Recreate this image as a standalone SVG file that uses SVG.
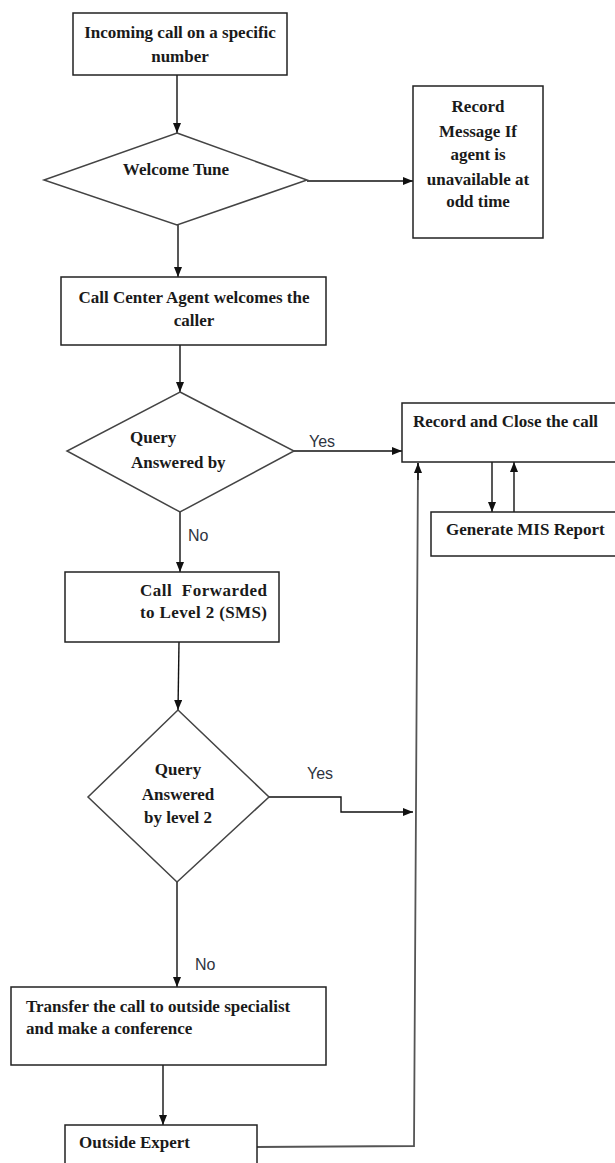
<svg xmlns="http://www.w3.org/2000/svg" width="615" height="1163" viewBox="0 0 615 1163">
<style>
.box{fill:#fff;stroke:#222;stroke-width:1.5}
.dia{fill:#fff;stroke:#444;stroke-width:1.5}
.t{font-family:"Liberation Serif","Times New Roman",serif;font-weight:bold;font-size:17px;fill:#1a1a1a}
.c{text-anchor:middle}
.lbl{font-family:"Liberation Sans",Arial,sans-serif;font-size:16px;fill:#2e3440}
.con{fill:none;stroke:#111;stroke-width:1.4}
.gray{stroke:#555;stroke-width:1.8}
</style>
<defs>
<marker id="ah" markerWidth="10" markerHeight="8" refX="10" refY="4" orient="auto" markerUnits="userSpaceOnUse">
<path d="M0,0 L10,4 L0,8 Z" fill="#111"/>
</marker>
</defs>
<rect width="615" height="1163" fill="#fff"/>
<g id="connectors">
<path class="con" d="M177,75 L177,133" marker-end="url(#ah)"/>
<path class="con" d="M178,225 L178,277" marker-end="url(#ah)"/>
<path class="con" d="M307,181 L413,181" marker-end="url(#ah)"/>
<path class="con" d="M180,345 L180,392" marker-end="url(#ah)"/>
<path class="con" d="M294,451 L402,451" marker-end="url(#ah)"/>
<path class="con" d="M180,512 L180,572" marker-end="url(#ah)"/>
<path class="con" d="M179,642 L178,710" marker-end="url(#ah)"/>
<path class="con" d="M269,797 L341,797 L341,812 L413,812" marker-end="url(#ah)"/>
<path class="con" d="M177,882 L177,987" marker-end="url(#ah)"/>
<path class="con" d="M163,1065 L163,1125" marker-end="url(#ah)"/>
<path class="con gray" d="M257,1147 L414,1146 L418,463"/>
<path class="con" d="M418,480 L418,463" marker-end="url(#ah)"/>
<path class="con" d="M492,462 L492,512" marker-end="url(#ah)"/>
<path class="con" d="M514,512 L514,462" marker-end="url(#ah)"/>
<text class="lbl" x="309" y="447">Yes</text>
<text class="lbl" x="188" y="541">No</text>
<text class="lbl" x="307" y="779">Yes</text>
<text class="lbl" x="195" y="970">No</text>
</g>
<g id="incoming">
<rect class="box" x="73" y="13" width="214" height="62"/>
<text class="t c" x="180" y="38">Incoming call on a specific</text>
<text class="t c" x="180" y="62">number</text>
</g>
<g id="welcome">
<polygon class="dia" points="177,133 307,180 177,225 44,180"/>
<text class="t c" x="176" y="175">Welcome Tune</text>
</g>
<g id="record-message">
<rect class="box" x="413" y="86" width="130" height="152"/>
<text class="t c" x="478" y="112">Record</text>
<text class="t c" x="478" y="137">Message If</text>
<text class="t c" x="478" y="160">agent is</text>
<text class="t c" x="478" y="185">unavailable at</text>
<text class="t c" x="478" y="207">odd time</text>
</g>
<g id="agent">
<rect class="box" x="61" y="277" width="265" height="68"/>
<text class="t c" x="194" y="303">Call Center Agent welcomes the</text>
<text class="t c" x="194" y="326">caller</text>
</g>
<g id="query1">
<polygon class="dia" points="180,392 294,451 180,512 67,451"/>
<text class="t" x="130" y="443">Query</text>
<text class="t" x="131" y="468">Answered by</text>
</g>
<g id="record-close">
<rect class="box" x="402" y="403" width="220" height="59"/>
<text class="t" x="413" y="427">Record and Close the call</text>
</g>
<g id="mis">
<rect class="box" x="431" y="512" width="190" height="44"/>
<text class="t" x="446" y="535">Generate MIS Report</text>
</g>
<g id="forwarded">
<rect class="box" x="65" y="572" width="214" height="70"/>
<text class="t" x="140" y="596" textLength="127" lengthAdjust="spacing" xml:space="preserve">Call  Forwarded</text>
<text class="t" x="140" y="618" textLength="127" lengthAdjust="spacing">to Level 2 (SMS)</text>
</g>
<g id="query2">
<polygon class="dia" points="178,710 269,797 177,882 88,797"/>
<text class="t c" x="178" y="775">Query</text>
<text class="t c" x="178" y="800">Answered</text>
<text class="t c" x="178" y="823">by level 2</text>
</g>
<g id="transfer">
<rect class="box" x="11" y="987" width="315" height="78"/>
<text class="t" x="26" y="1012">Transfer the call to outside specialist</text>
<text class="t" x="26" y="1034">and make a conference</text>
</g>
<g id="expert">
<rect class="box" x="65" y="1125" width="192" height="50"/>
<text class="t" x="79" y="1148">Outside Expert</text>
</g>
</svg>
